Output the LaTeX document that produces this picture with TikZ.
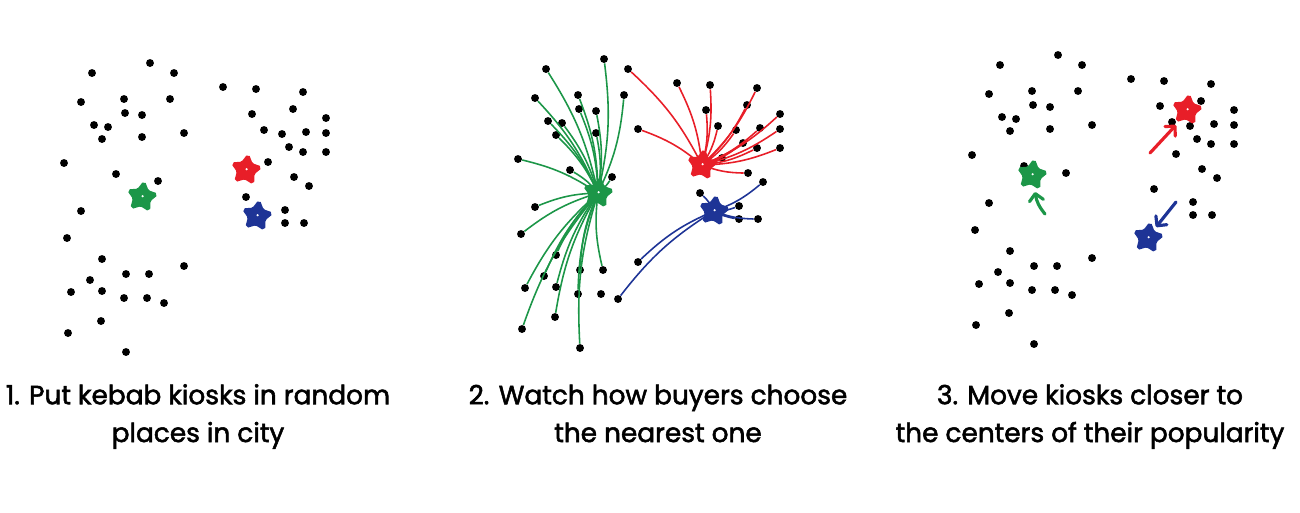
\documentclass[tikz,border=0pt]{standalone}
\usepackage{fontspec}
\setmainfont{Poppins}
\newfontfamily\capfont{Poppins}[BoldFont={Poppins},BoldFeatures={FakeBold=2}]
\usetikzlibrary{shapes.geometric,arrows.meta}

\definecolor{kebabgreen}{RGB}{28,150,72}
\definecolor{kebabred}{RGB}{232,30,40}
\definecolor{kebabblue}{RGB}{30,52,150}

% the same buyers in every panel (pixel positions of panel 1)
\newcommand\buyerlist{150/63,92/73,174/73,81/102,124/99,170/99,125/113,142/115,
94/125,108/127,102/139,142/137,184/133,64/163,116/174,158/181,81/211,67/238,
102/259,184/266,126/274,149/274,90/280,71/292,102/291,124/298,147/298,164/303,
101/321,68/333,126/352,223/87,256/89,303/92,252/114,293/109,326/118,264/130,
282/134,306/132,326/133,289/147,303/152,326/152,268/162,294/177,309/186,
246/197,285/210,285/223,304/223}

\tikzset{
  buyer/.style={circle,fill=black,inner sep=0pt,minimum size=4.5pt},
  kiosk/.style={star,star points=5,star point ratio=1.85,minimum size=0.58cm,
    inner sep=0pt,line width=1.6pt,rounded corners=1pt,rotate=-8,
    path picture={\fill[white] (path picture bounding box.center) circle (0.7pt);}},
  greenline/.style={kebabgreen,line width=0.9pt},
  redline/.style={kebabred,line width=0.9pt},
  blueline/.style={kebabblue,line width=0.9pt},
  move/.style={line width=1.8pt,line cap=round,
    -{Straight Barb[length=4pt,width=8pt,round]}},
  caption/.style={align=center,anchor=base,font=\fontsize{15}{21.5}\selectfont\capfont\bfseries}
}

\begin{document}
\begin{tikzpicture}[x=0.02cm,y=-0.02cm]
\useasboundingbox (0,0) rectangle (1300,512);

% 1. random kiosks
\foreach \x/\y [count=\i] in \buyerlist
  \node[buyer] (a\i) at (\x,\y) {};
\node[kiosk,draw=kebabgreen,fill=kebabgreen] (ga) at (142,197) {};
\node[kiosk,draw=kebabred,fill=kebabred] (ra) at (246,170) {};
\node[kiosk,draw=kebabblue,fill=kebabblue] (ba) at (257,216) {};

% 2. who goes where
\begin{scope}[shift={(454,-4)}]
\foreach \x/\y [count=\i] in \buyerlist
  \node[buyer] (b\i) at (\x,\y) {};
\coordinate (gcb) at (144,197);
\coordinate (rcb) at (248,169);
\coordinate (bcb) at (260,215);
\end{scope}
\foreach \i in {1,2,4,5,6,7,8,9,10,11,12,14,15,16,17,18,19,21,22,23,24,25,26,29,30,31}
  \draw[greenline] (gcb) to[bend right=10] (b\i);
\foreach \i in {3,13,32,33,34,35,36,37,38,39,40,41,42,43,44,45,46}
  \draw[redline] (rcb) to[bend right=10] (b\i);
\foreach \i in {20,28,47,48,49,50,51}
  \draw[blueline] (bcb) to[bend right=10] (b\i);
\node[kiosk,draw=kebabgreen,fill=kebabgreen] (gb) at (gcb) {};
\node[kiosk,draw=kebabred,fill=kebabred] (rb) at (rcb) {};
\node[kiosk,draw=kebabblue,fill=kebabblue] (bb) at (bcb) {};

% 3. kiosks moved
\begin{scope}[shift={(908,-8)}]
\foreach \x/\y [count=\i] in \buyerlist
  \node[buyer] (c\i) at (\x,\y) {};
\end{scope}
\node[kiosk,draw=kebabgreen,fill=kebabgreen] (gc) at (1032,175) {};
\node[kiosk,draw=kebabred,fill=kebabred] (rc) at (1187,110) {};
\node[kiosk,draw=kebabblue,fill=kebabblue] (bc) at (1148,238) {};
\coordinate (gfrom) at (1045,214);
\coordinate (gto) at (1035,192);
\coordinate (rfrom) at (1150,153);
\coordinate (rto) at (1176,125);
\coordinate (bfrom) at (1176,202);
\coordinate (bto) at (1156,227);
\draw[move,kebabgreen] (gfrom) to[bend left=15] (gto);
\draw[move,kebabred] (rfrom) -- (rto);
\draw[move,kebabblue] (bfrom) -- (bto);

\node[caption] (t1) at (198,442) {1. Put kebab kiosks in random\\places in city};
\node[caption] (t2) at (658,442) {2. Watch how buyers choose\\the nearest one};
\node[caption] (t3) at (1090,442) {3. Move kiosks closer to\\the centers of their popularity};
\end{tikzpicture}
\end{document}
